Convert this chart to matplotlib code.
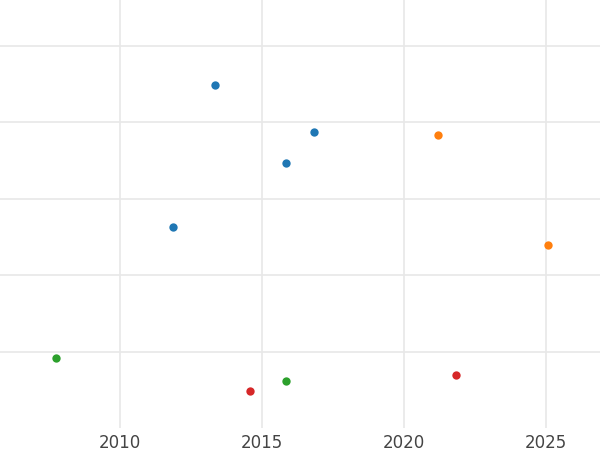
import matplotlib
matplotlib.use("Agg")
import matplotlib.pyplot as plt

blue_x = [2013.35, 2016.83, 2015.85, 2011.87]
blue_y = [4.49, 3.87, 3.47, 2.63]
orange_x = [2021.2, 2025.07]
orange_y = [3.83, 2.39]
green_x = [2007.75, 2015.85]
green_y = [0.92, 0.62]
red_x = [2014.58, 2021.83]
red_y = [0.48, 0.69]

fig = plt.figure(figsize=(6, 4.5), dpi=100)
ax = fig.add_axes([0, 0.049, 1, 0.951])
for xs, ys, c in [(blue_x, blue_y, '#1f77b4'), (orange_x, orange_y, '#ff7f0e'),
                  (green_x, green_y, '#2ca02c'), (red_x, red_y, '#d62728')]:
    ax.scatter(xs, ys, color=c, s=36, zorder=3, linewidths=0)

ax.set_xlim(2005.77, 2026.9)
ax.set_ylim(0, 5.6)
ax.set_xticks([2010, 2015, 2020, 2025])
ax.set_yticks([1, 2, 3, 4, 5])
ax.set_yticklabels([])
ax.tick_params(length=0, labelsize=12, labelcolor='#444444', pad=4)
ax.grid(True, color='#e8e8e8', linewidth=1.2)
ax.set_axisbelow(True)
for s in ax.spines.values():
    s.set_visible(False)
fig.savefig("out.png")
